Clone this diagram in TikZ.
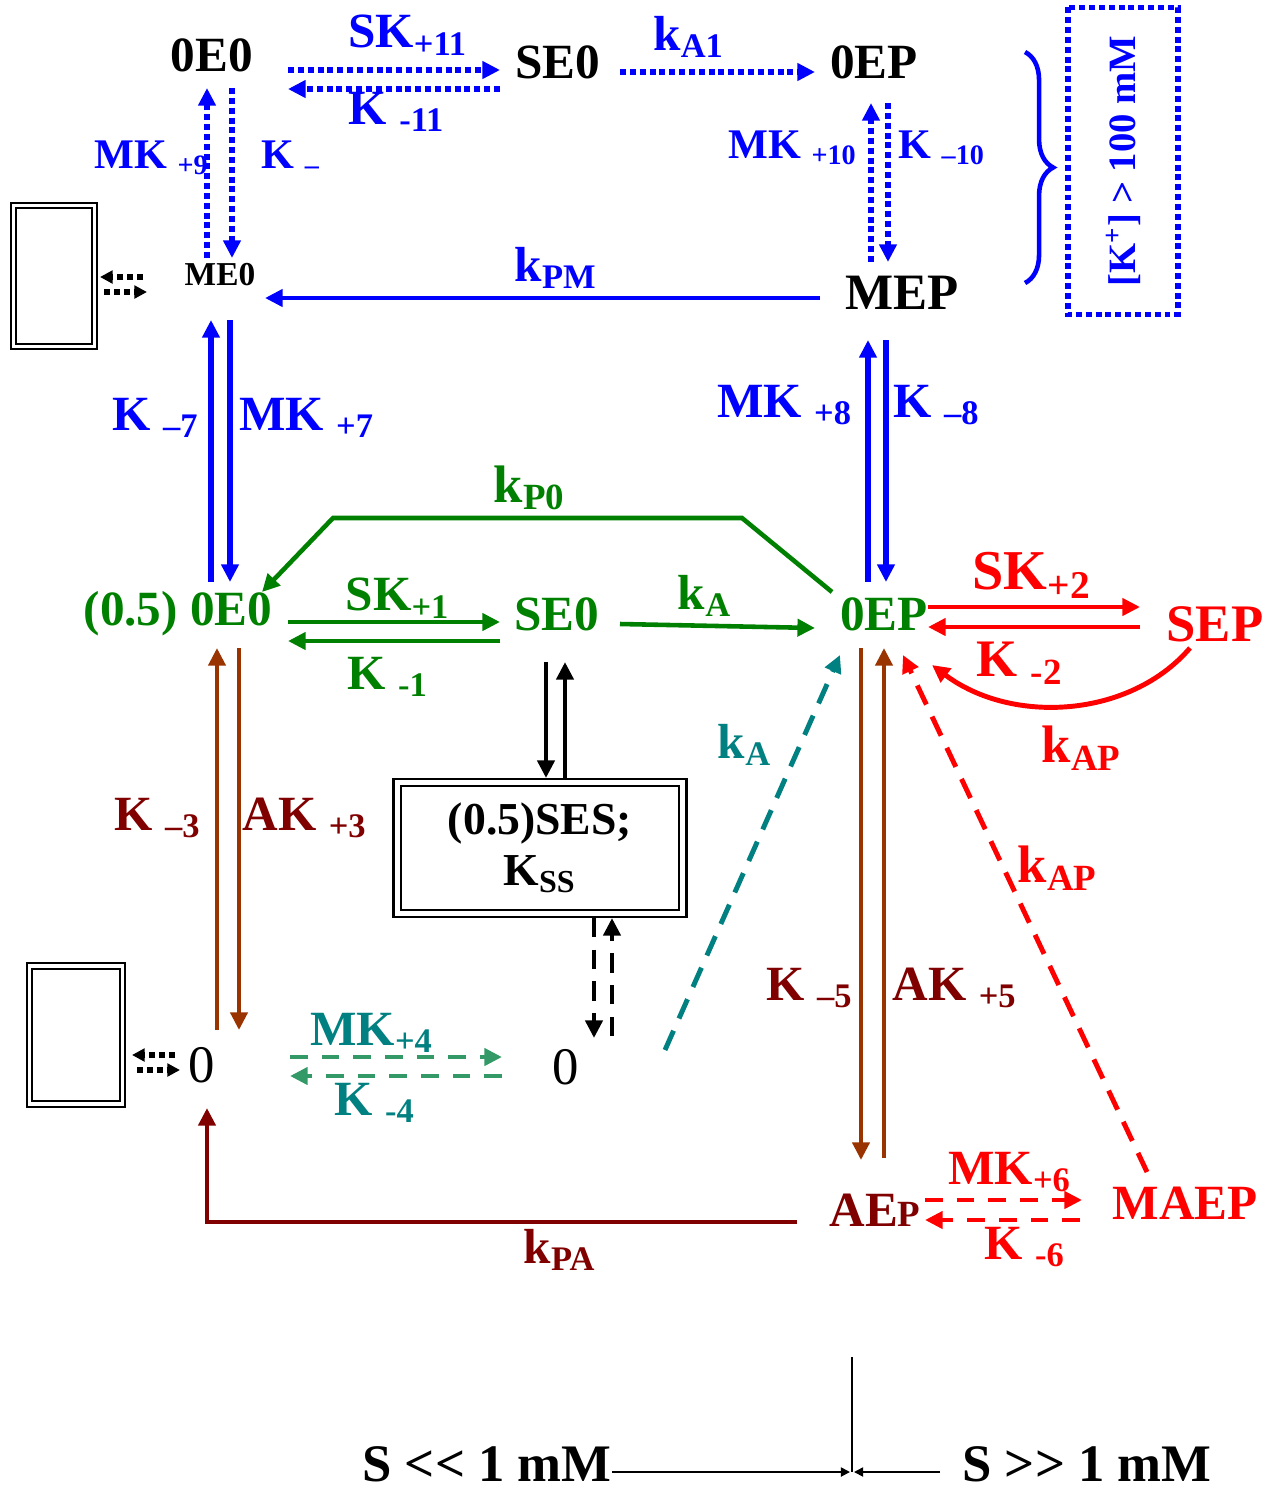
\documentclass[tikz,border=0pt]{standalone}
\usepackage{fontspec}
\setmainfont{Liberation Serif}
\usetikzlibrary{arrows.meta,decorations.pathreplacing}

\definecolor{kblue}{RGB}{0,0,255}
\definecolor{kgreen}{RGB}{0,128,0}
\definecolor{kred}{RGB}{255,0,0}
\definecolor{kmaroon}{RGB}{128,0,0}
\definecolor{kbrown}{RGB}{153,51,0}
\definecolor{kteal}{RGB}{0,128,128}
\definecolor{ksea}{RGB}{51,153,102}

\newcommand\fsz[1]{\fontsize{#1}{#1}\selectfont}

\begin{document}
\begin{tikzpicture}[x=0.01cm, y=-0.01cm,
  lab/.style={inner sep=0pt, font=\bfseries\fsz{#1}}, lab/.default=14,
  tip/.style={-{Triangle[length=5pt,width=4.8pt]}},
  smalltip/.style={-{Triangle[length=3.6pt,width=3.6pt]}},
  thintip/.style={-{Triangle[length=2.6pt,width=2.6pt]}},
  dotln/.style={line width=1.6pt, dash pattern=on 1.7pt off 1.1pt},
  dashln/.style={line width=1.4pt, dash pattern=on 6pt off 3.8pt},
  dbox/.style={draw, double, line width=0.6pt, double distance=0.9pt, inner sep=0pt}]
\useasboundingbox (0,0) rectangle (1284,1490);

%%%%%%%%%%
% Species
%%%%%%%%%%
\node[lab] (t0E0) at (212,55) {0E0};
\node[lab] (tSE0) at (558,62) {SE0};
\node[lab] (t0EP) at (874,62) {0EP};
\node[lab=9.5] (tME0) at (220,275) {ME0};
\node[lab=14.5] (tMEP) at (902,293) {MEP};

\node[lab, text=kgreen] (g0E0) at (178,614) {(0.5) 0E0};
\node[lab, text=kgreen] (gSE0) at (557,614) {SE0};
\node[lab, text=kgreen] (g0EP) at (884,614) {0EP};
\node[lab=15, text=kred] (rSEP) at (1215,624) {SEP};
\node[lab, text=kred] (rMAEP) at (1185,1203) {MAEP};
\node[lab, text=kmaroon] (dAEP) at (875,1210) {AE{\fsz{10.5}P}};

\node[inner sep=0pt, font=\fsz{15}] (z1) at (202,1065) {0};
\node[inner sep=0pt, font=\fsz{15}] (z2) at (566,1067) {0};

\node[dbox, line width=0.8pt, double distance=1.2pt, minimum width=2.85cm,
  minimum height=1.31cm, align=center, font=\bfseries\fontsize{13}{14.5}\selectfont]
  (ses) at (540,848) {(0.5)SES;\\K\textsubscript{SS}};

\node[dbox, minimum width=0.81cm, minimum height=1.41cm] (boxM) at (54,276) {};
\node[dbox, minimum width=0.93cm, minimum height=1.38cm] (boxO) at (76,1035) {};

\node[draw=kblue, dotln, rotate=90, minimum width=3.07cm, minimum height=1.1cm,
  inner sep=0pt, text=kblue, font=\bfseries\fsz{11}] (kbox) at (1123,161)
  {[K\textsuperscript{+}] > 100 mM};

%%%%%%%%%%
% Rate labels
%%%%%%%%%%
\foreach \n/\x/\y/\s/\t in {
lSK11/408/35/14/{SK\textsubscript{+11}},
lK11/397/112/14/{K \textsubscript{-11}},
lkA1/689/37/14/{k\textsubscript{A1}},
lMK9/152/158/12/{MK \textsubscript{+9}},
lK9/291/158/12/{K \textsubscript{--}},
lMK10/793/148/12/{MK \textsubscript{+10}},
lK10/942/148/12/{K \textsubscript{--10}},
lkPM/556/268/14/{k\textsubscript{PM}},
lK7/156/418/14/{K \textsubscript{--7}},
lMK7/307/418/14/{MK \textsubscript{+7}},
lMK8/785/405/14/{MK \textsubscript{+8}},
lK8/937/405/14/{K \textsubscript{--8}}
} {
\node[lab=\s, text=kblue] (\n) at (\x,\y) {\t};
}
\foreach \n/\x/\y/\s/\t in {
lkP0/530/488/15/{k\textsubscript{P0}},
lSK1/398/598/14/{SK\textsubscript{+1}},
lK1/388/677/14/{K \textsubscript{-1}},
lkAg/705/596/14/{k\textsubscript{A}}
} {
\node[lab=\s, text=kgreen] (\n) at (\x,\y) {\t};
}
\foreach \n/\x/\y/\s/\t in {
lSK2/1032/575/16/{SK\textsubscript{+2}},
lK2/1020/663/15/{K \textsubscript{-2}},
lkAP1/1082/748/15/{k\textsubscript{AP}},
lkAP2/1058/868/15/{k\textsubscript{AP}},
lMK6/1010/1172/14/{MK\textsubscript{+6}},
lK6/1025/1247/14/{K \textsubscript{-6}}
} {
\node[lab=\s, text=kred] (\n) at (\x,\y) {\t};
}
\foreach \n/\x/\y/\s/\t in {
lK3/158/818/14/{K \textsubscript{--3}},
lAK3/305/818/14/{AK \textsubscript{+3}},
lK5/810/988/14/{K \textsubscript{--5}},
lAK5/955/988/14/{AK \textsubscript{+5}},
lkPA/560/1250/14/{k\textsubscript{PA}}
} {
\node[lab=\s, text=kmaroon] (\n) at (\x,\y) {\t};
}
\foreach \n/\x/\y/\s/\t in {
lkAt/745/745/14/{k\textsubscript{A}},
lMK4/372/1033/14/{MK\textsubscript{+4}},
lK4/375/1103/14/{K \textsubscript{-4}}
} {
\node[lab=\s, text=kteal] (\n) at (\x,\y) {\t};
}

%%%%%%%%%%
% High K+ branch (dotted)
%%%%%%%%%%
\draw[kblue, dotln, tip] ([shift={(76,15)}]t0E0.center) -- ([shift={(-58,8)}]tSE0.center);
\draw[kblue, dotln, tip] ([shift={(-58,27)}]tSE0.center) -- ([shift={(76,34)}]t0E0.center);
\draw[kblue, dotln, tip] ([shift={(62,10)}]tSE0.center) -- ([shift={(-59,10)}]t0EP.center);
\draw[kblue, dotln, tip] ([shift={(-13,-17)}]tME0.center) -- ([shift={(-5,33)}]t0E0.center);
\draw[kblue, dotln, tip] ([shift={(20,33)}]t0E0.center) -- ([shift={(12,-17)}]tME0.center);
\draw[kblue, dotln, tip] ([shift={(-31,-31)}]tMEP.center) -- ([shift={(-3,41)}]t0EP.center);
\draw[kblue, dotln, tip] ([shift={(14,41)}]t0EP.center) -- ([shift={(-14,-31)}]tMEP.center);
\draw[kblue, line width=1.3pt, decorate, decoration={brace, amplitude=8pt}] (1025,52) -- (1025,283);

% side exchange with the boxes
\draw[dotln, line width=1.5pt, smalltip] ([shift={(-77,2)}]tME0.center) -- ([shift={(46,1)}]boxM.center);
\draw[dotln, line width=1.5pt, smalltip] ([shift={(50,16)}]boxM.center) -- ([shift={(-73,17)}]tME0.center);
\draw[dotln, line width=1.5pt, smalltip] ([shift={(-27,-10)}]z1.center) -- ([shift={(56,20)}]boxO.center);
\draw[dotln, line width=1.5pt, smalltip] ([shift={(61,35)}]boxO.center) -- ([shift={(-22,5)}]z1.center);

%%%%%%%%%%
% Solid steps
%%%%%%%%%%
\draw[kblue, line width=1.4pt, tip] ([shift={(-82,5)}]tMEP.center) -- ([shift={(45,23)}]tME0.center);
\draw[kblue, line width=1.5pt, tip] ([shift={(33,-32)}]g0E0.center) -- ([shift={(-9,45)}]tME0.center);
\draw[kblue, line width=1.5pt, tip] ([shift={(10,45)}]tME0.center) -- ([shift={(52,-32)}]g0E0.center);
\draw[kblue, line width=1.5pt, tip] ([shift={(-16,-32)}]g0EP.center) -- ([shift={(-34,47)}]tMEP.center);
\draw[kblue, line width=1.5pt, tip] ([shift={(-16,47)}]tMEP.center) -- ([shift={(2,-32)}]g0EP.center);

\draw[kgreen, line width=1.3pt, tip] ([shift={(-52,-22)}]g0EP.center) -- ++(-90,-74) -- ++(-409,0) -- ([shift={(84,-22)}]g0E0.center);
\draw[kgreen, line width=1.3pt, tip] ([shift={(110,8)}]g0E0.center) -- ([shift={(-57,8)}]gSE0.center);
\draw[kgreen, line width=1.3pt, tip] ([shift={(-57,27)}]gSE0.center) -- ([shift={(110,27)}]g0E0.center);
\draw[kgreen, line width=1.3pt, tip] ([shift={(63,10)}]gSE0.center) -- ([shift={(-69,14)}]g0EP.center);

\draw[kred, line width=1.4pt, tip] ([shift={(44,-7)}]g0EP.center) -- ([shift={(-75,-17)}]rSEP.center);
\draw[kred, line width=1.4pt, tip] ([shift={(-75,3)}]rSEP.center) -- ([shift={(44,13)}]g0EP.center);
\draw[kred, line width=1.4pt, tip] ([shift={(-25,24)}]rSEP.center) .. controls +(-60,70) and +(80,60) .. ([shift={(48,51)}]g0EP.center);

\draw[line width=1.3pt, tip] ([shift={(-11,48)}]gSE0.center) -- ([shift={(6,-70)}]ses.center);
\draw[line width=1.3pt, tip] ([shift={(25,-70)}]ses.center) -- ([shift={(8,48)}]gSE0.center);

\draw[kbrown, line width=1.2pt, tip] ([shift={(15,-35)}]z1.center) -- ([shift={(39,34)}]g0E0.center);
\draw[kbrown, line width=1.2pt, tip] ([shift={(61,34)}]g0E0.center) -- ([shift={(37,-35)}]z1.center);
\draw[kbrown, line width=1.2pt, tip] ([shift={(-23,34)}]g0EP.center) -- ([shift={(-14,-50)}]dAEP.center);
\draw[kbrown, line width=1.2pt, tip] ([shift={(9,-52)}]dAEP.center) -- ([shift={(0,34)}]g0EP.center);

\draw[kmaroon, line width=1.4pt, tip] ([shift={(-78,12)}]dAEP.center) -| ([shift={(5,43)}]z1.center);

%%%%%%%%%%
% Dashed steps
%%%%%%%%%%
\draw[dashln, line width=1.3pt, dash pattern=on 5.5pt off 3.5pt, tip] ([shift={(54,70)}]ses.center) -- ([shift={(28,-29)}]z2.center);
\draw[dashln, line width=1.3pt, dash pattern=on 5.5pt off 3.5pt, tip] ([shift={(46,-31)}]z2.center) -- ([shift={(72,70)}]ses.center);
\draw[ksea, dashln, dash pattern=on 5pt off 4pt, tip] ([shift={(88,-8)}]z1.center) -- ([shift={(-64,-10)}]z2.center);
\draw[ksea, dashln, dash pattern=on 5pt off 4pt, tip] ([shift={(-64,9)}]z2.center) -- ([shift={(88,11)}]z1.center);
\draw[kteal, dashln, tip] ([shift={(99,-17)}]z2.center) -- ([shift={(-44,41)}]g0EP.center);
\draw[kred, dashln, tip] ([shift={(-38,-31)}]rMAEP.center) -- ([shift={(19,41)}]g0EP.center);
\draw[kred, dashln, dash pattern=on 5pt off 4pt, tip] ([shift={(50,-10)}]dAEP.center) -- ([shift={(-103,-3)}]rMAEP.center);
\draw[kred, dashln, dash pattern=on 5pt off 4pt, tip] ([shift={(-105,17)}]rMAEP.center) -- ([shift={(50,10)}]dAEP.center);

%%%%%%%%%%
% S ranges
%%%%%%%%%%
\coordinate (divtop) at (852,1357);
\coordinate (divbot) at (852,1472);
\node[lab=15] (lS1) at (487,1464) {S <{}< 1 mM};
\node[lab=15] (lS2) at (1087,1464) {S >{}> 1 mM};
\draw[line width=0.5pt] (divtop) -- (divbot);
\draw[line width=0.5pt, thintip] ([shift={(125,8)}]lS1.center) -- ([shift={(-2,0)}]divbot);
\draw[line width=0.5pt, thintip] ([shift={(-147,8)}]lS2.center) -- ([shift={(2,0)}]divbot);

\end{tikzpicture}
\end{document}
